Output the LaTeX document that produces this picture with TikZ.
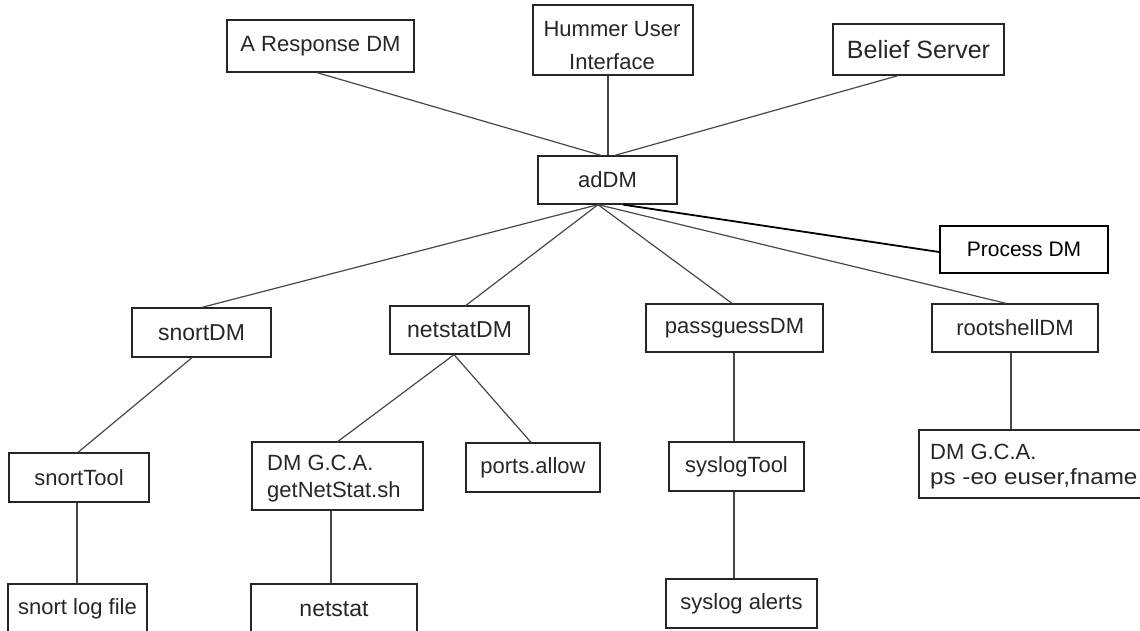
\documentclass[tikz,border=0pt]{standalone}
\usepackage{fontspec}
\setmainfont{Liberation Sans}
\begin{document}
\begin{tikzpicture}[x=1pt,y=-1pt,
  box/.style={draw=black!85, line width=1.3pt, inner sep=0pt, rectangle, text=black!85, font=\fontsize{22}{26}\selectfont},
  txt/.style={inner sep=0pt, text=black!85, font=\fontsize{22}{26}\selectfont},
  conn/.style={draw=black!72, line width=1.2pt},
  bold/.style={draw=black, line width=1.8pt}]
\useasboundingbox (0,0) rectangle (1140,631);
\clip (0,0) rectangle (1140,631);
% top row
\node[box, minimum width=187pt, minimum height=52pt] (resp) at (320.5,46) {A Response DM};
\node[box, minimum width=160pt, minimum height=70pt] (hum) at (613,40) {};
\node[txt, anchor=base] (humA) at (612,36.5) {Hummer User};
\node[txt, anchor=base] (humB) at (612,70) {Interface};
\node[box, minimum width=171pt, minimum height=51pt, font=\fontsize{25}{30}\selectfont] (bel) at (918.5,49.5) {Belief Server};
% centre
\node[box, minimum width=139pt, minimum height=48pt] (ad) at (607.5,180) {adDM};
\node[box, draw=black, line width=1.8pt, minimum width=168pt, minimum height=47pt, text=black, font=\fontsize{21}{25}\selectfont] (proc) at (1024,249.5) {Process DM};
% DM row
\node[box, minimum width=139pt, minimum height=49pt, font=\fontsize{23}{27}\selectfont] (sdm) at (201.5,332.5) {snortDM};
\node[box, minimum width=139pt, minimum height=48pt, font=\fontsize{23}{27}\selectfont] (ndm) at (459.5,330) {netstatDM};
\node[box, minimum width=177pt, minimum height=48pt] (pdm) at (734.5,328) {passguessDM};
\node[box, minimum width=166pt, minimum height=48pt] (rdm) at (1015,328) {rootshellDM};
% tool row
\node[box, minimum width=140pt, minimum height=49pt] (stool) at (79,477.5) {snortTool};
\node[box, minimum width=171pt, minimum height=68pt] (gca1) at (337.5,476) {};
\node[txt, anchor=base west] (gca1a) at (267,470) {DM G.C.A.};
\node[txt, anchor=base west] (gca1b) at (267,497) {getNetStat.sh};
\node[box, minimum width=134pt, minimum height=49pt] (ports) at (533,467.5) {ports.allow};
\node[box, minimum width=135pt, minimum height=49pt] (sytool) at (736.5,466.5) {syslogTool};
\node[box, minimum width=230pt, minimum height=68pt] (gca2) at (1034,464) {};
\node[txt, anchor=base west] (gca2a) at (930,459) {DM G.C.A.};
\node[txt, anchor=base west] (gca2b) at (930,484) {\scalebox{1.1}[1]{ps -eo euser,fname}};
% bottom row
\node[box, minimum width=139pt, minimum height=49pt] (slog) at (77.5,608.5) {snort log file};
\node[box, minimum width=166pt, minimum height=50pt, font=\fontsize{23}{27}\selectfont] (nst) at (334,609) {netstat};
\node[box, minimum width=151pt, minimum height=49pt] (syal) at (741.5,603.5) {syslog alerts};
% connectors
\draw[conn] ([xshift=-3.5pt]resp.south) -- ([xshift=-6.5pt]ad.north);
\draw[conn] ([xshift=-5pt]hum.south) -- ([xshift=0.5pt]ad.north);
\draw[conn] ([xshift=-20.5pt]bel.south) -- ([xshift=7.5pt]ad.north);
\draw[conn] ([xshift=-9.5pt]ad.south) -- ([xshift=0.5pt]sdm.north);
\draw[conn] ([xshift=-9.5pt]ad.south) -- ([xshift=6.5pt]ndm.north);
\draw[conn] ([xshift=-9.5pt]ad.south) -- ([xshift=-2.5pt]pdm.north);
\draw[conn] ([xshift=-9.5pt]ad.south) -- ([xshift=-9pt]rdm.north);
\draw[bold] ([xshift=15.5pt]ad.south) -- ([yshift=-2.5pt]proc.west);
\draw[conn] ([xshift=-9.5pt]sdm.south) -- ([xshift=-1pt]stool.north);
\draw[conn] ([xshift=-2pt]stool.south) -- ([xshift=-0.5pt]slog.north);
\draw[conn] ([xshift=-5.5pt]ndm.south) -- ([xshift=0.5pt]gca1.north);
\draw[conn] ([xshift=-5.5pt]ndm.south) -- ([xshift=-2pt]ports.north);
\draw[conn] ([xshift=-6.5pt]gca1.south) -- ([xshift=-3pt]nst.north);
\draw[conn] ([xshift=-0.5pt]pdm.south) -- ([xshift=-2.5pt]sytool.north);
\draw[conn] ([xshift=-2.5pt]sytool.south) -- ([xshift=-7.5pt]syal.north);
\draw[conn] ([xshift=-4pt]rdm.south) -- ([xshift=-23pt]gca2.north);
\end{tikzpicture}
\end{document}
